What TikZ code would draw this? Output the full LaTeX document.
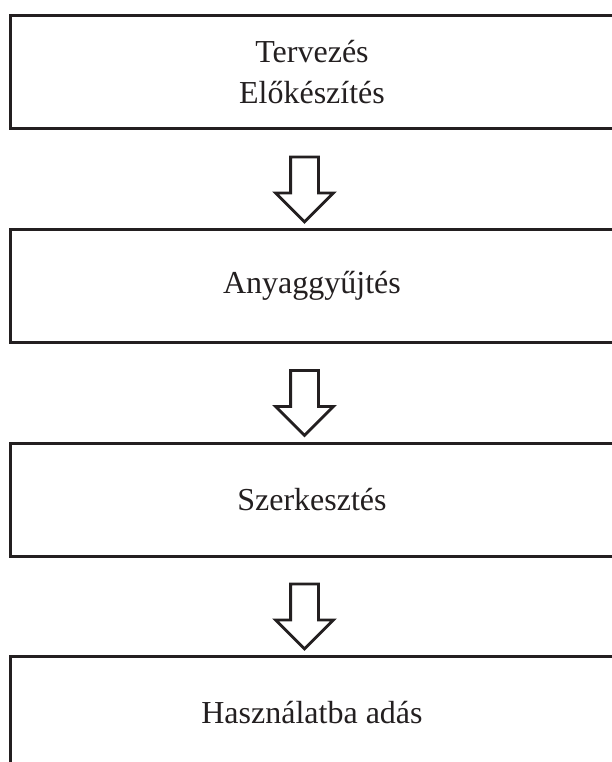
\documentclass[tikz,border=0pt]{standalone}
\usepackage{fontspec}
\setmainfont{Liberation Serif}
\usepackage{xcolor}
\usepackage{tikz}
\usetikzlibrary{shapes.arrows}
\definecolor{inkt}{HTML}{231F20}
\tikzstyle{fase} = [rectangle, draw=inkt, line width=3pt, text=inkt,
minimum width=604pt, minimum height=113pt, align=center,
font=\fontsize{32}{41}\selectfont]
\tikzstyle{nyil} = [single arrow, draw=inkt, line width=2.8pt,
shape border rotate=270, minimum width=55pt, minimum height=65pt,
single arrow head extend=15pt, single arrow head indent=0pt, inner sep=12.5pt]

\begin{document}
\begin{tikzpicture}[node distance = 110pt]
	\useasboundingbox (0,0) rectangle (612pt,-762pt);
	
	\node [fase] (tervezes) at (312pt,-72.5pt) {Tervezés\\Előkészítés};
	\node [nyil, below of=tervezes, xshift=-7.5pt] (nyil1) {};
	
	\node [fase, below of=nyil1, xshift=7.5pt, node distance=103.5pt] (anyag) {Anyaggyűjtés};
	\node [nyil, below of=anyag, xshift=-7.5pt] (nyil2) {};
	
	\node [fase, below of=nyil2, xshift=7.5pt, node distance=103.5pt] (szerk) {Szerkesztés};
	\node [nyil, below of=szerk, xshift=-7.5pt] (nyil3) {};
	
	\node [fase, below of=nyil3, xshift=7.5pt, node distance=103.5pt] (hasznalat) {Használatba adás};
\end{tikzpicture}
\end{document}
